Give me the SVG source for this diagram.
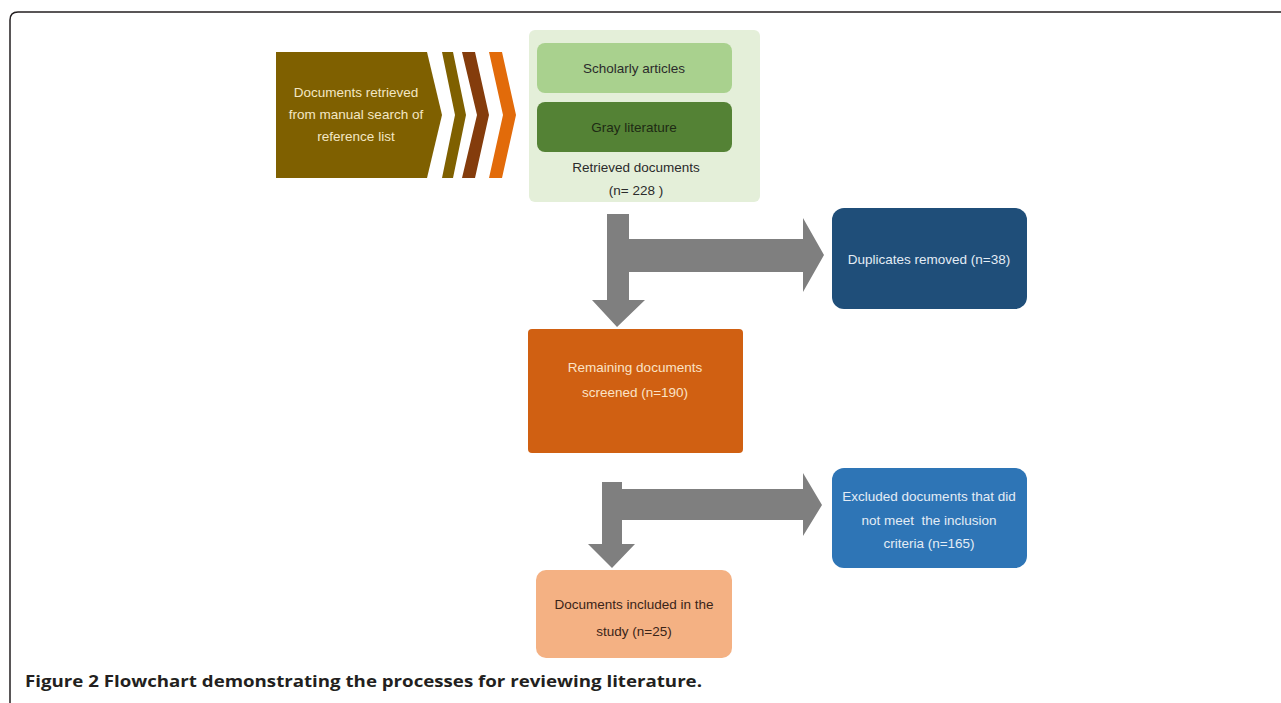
<svg xmlns="http://www.w3.org/2000/svg" width="1281" height="703" viewBox="0 0 1281 703">
<style>
.t{font-family:"Liberation Sans",Arial,sans-serif;font-size:13.5px;text-anchor:middle;white-space:pre}
.lt{fill:#f3e7c4}
.wt{fill:#e3ecf5}
.dk{fill:#2b2b2b}
.arr{fill:#7f7f7f}
.cap{font-family:"Open Sans","Liberation Sans",sans-serif;font-size:16px;font-weight:700;fill:#231f20}
</style>
<rect width="1281" height="703" fill="#ffffff"/>
<path d="M10,703 V20 Q10,12 18,12 H1281" fill="none" stroke="#231f20" stroke-width="1.5"/>

<g id="source">
<polygon points="276,52 427,52 442,115 427,178 276,178" fill="#7f6000"/>
<polygon points="442,52 453,52 466,115 453,178 442,178 455,115" fill="#7f6000"/>
<polygon points="462,52 475,52 489,115 475,178 462,178 477,115" fill="#843c0c"/>
<polygon points="489,52 502,52 516,115 502,178 489,178 503,115" fill="#e26b0a"/>
<text class="t lt" x="356" y="97">Documents retrieved</text>
<text class="t lt" x="356" y="119">from manual search of</text>
<text class="t lt" x="356" y="141">reference list</text>
</g>

<g id="retrieved">
<rect x="529" y="30" width="231" height="172" rx="6" fill="#e4efd9"/>
<rect x="537" y="43" width="195" height="50" rx="8" fill="#a9d18e"/>
<text class="t dk" x="634" y="73">Scholarly articles</text>
<rect x="537" y="102" width="195" height="50" rx="8" fill="#548235"/>
<text class="t" x="634" y="132" fill="#1e2a14">Gray literature</text>
<text class="t dk" x="636" y="172">Retrieved documents</text>
<text class="t dk" x="636" y="195">(n= 228 )</text>
</g>

<g id="duplicates">
<rect x="832" y="208" width="195" height="101" rx="12" fill="#1f4e79"/>
<text class="t wt" x="929" y="264">Duplicates removed (n=38)</text>
</g>

<g id="remaining">
<rect x="528" y="329" width="215" height="124" rx="4" fill="#d06012"/>
<text class="t" x="635" y="372" fill="#fbe3c6">Remaining documents</text>
<text class="t" x="635" y="397" fill="#fbe3c6">screened (n=190)</text>
</g>

<g id="excluded">
<rect x="832" y="468" width="195" height="100" rx="12" fill="#2e75b6"/>
<text class="t wt" x="929" y="501">Excluded documents that did</text>
<text class="t wt" x="929" y="525">not meet  the inclusion</text>
<text class="t wt" x="929" y="548">criteria (n=165)</text>
</g>

<g id="included">
<rect x="536" y="570" width="196" height="88" rx="10" fill="#f4b183"/>
<text class="t" x="634" y="609" fill="#3a2418">Documents included in the</text>
<text class="t" x="634" y="636" fill="#3a2418">study (n=25)</text>
</g>

<g id="connectors">
<path class="arr" d="M607,214 H629 V239 H803 V218 L824,255 L803,292 V272 H629 V300 H645 L617,327 L592,300 H607 Z"/>
<path class="arr" d="M602,482 H622 V489 H803 V473 L822,505 L803,536 V520 H622 V544 H635 L612,568 L588,544 H602 Z"/>
</g>

<text class="cap" x="25" y="687" textLength="677" lengthAdjust="spacingAndGlyphs">Figure 2 <tspan font-weight="700">Flowchart demonstrating the processes for reviewing literature.</tspan></text>
</svg>
